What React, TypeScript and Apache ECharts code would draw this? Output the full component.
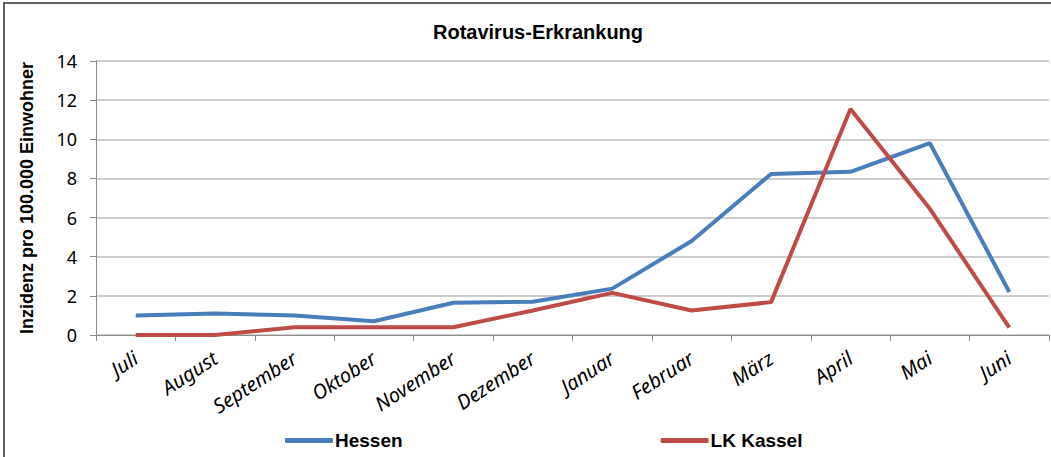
import React, { useEffect, useRef } from "react";
import * as echarts from "echarts";

const months = ["Juli", "August", "September", "Oktober", "November", "Dezember", "Januar", "Februar", "März", "April", "Mai", "Juni"];
const hessen = [1.0, 1.1, 1.0, 0.7, 1.65, 1.7, 2.37, 4.8, 8.23, 8.34, 9.8, 2.2];
const lkKassel = [0, 0, 0.4, 0.4, 0.4, 1.25, 2.15, 1.25, 1.68, 11.55, 6.45, 0.38];
const yTicks = { min: 0, max: 14, interval: 2 };

const boldFont = "'Liberation Sans', Arial, sans-serif";

export default function App() {
  const ref = useRef<HTMLDivElement>(null);
  useEffect(() => {
    document.body.style.margin = "0";
    const chart = echarts.init(ref.current!, null, { renderer: "svg" });
    chart.setOption({
      animation: false,
      backgroundColor: "#ffffff",
      title: {
        text: "Rotavirus-Erkrankung",
        left: 428,
        top: 17,
        textStyle: { fontFamily: boldFont, fontWeight: "bold", fontSize: 20, color: "#000" },
      },
      graphic: [
        {
          type: "rect",
          shape: { x: 4, y: 3, width: 1080, height: 480 },
          style: { fill: "none", stroke: "#606060", lineWidth: 2 },
          silent: true,
        },
      ],
      legend: {
        bottom: 2,
        left: 280,
        itemGap: 258,
        itemWidth: 48,
        itemHeight: 5,
        icon: "roundRect",
        textStyle: { fontFamily: boldFont, fontWeight: "bold", fontSize: 19, color: "#000", padding: [0, 0, 0, -3] },
        data: ["Hessen", "LK Kassel"],
      },
      grid: { left: 96, right: 2, top: 61, bottom: 122 },
      xAxis: {
        type: "category",
        data: months,
        boundaryGap: true,
        axisLine: { lineStyle: { color: "#8c8c8c", width: 1 } },
        axisTick: { show: true, length: 6, lineStyle: { color: "#8c8c8c" } },
        axisLabel: {
          rotate: 33,
          fontFamily: "Noto Sans",
          fontStyle: "italic",
          fontSize: 20,
          color: "#000",
          margin: 21,
          interval: 0,
        },
      },
      yAxis: {
        type: "value",
        min: yTicks.min,
        max: yTicks.max,
        interval: yTicks.interval,
        name: "Inzidenz pro 100.000 Einwohner",
        nameLocation: "middle",
        nameGap: 60,
        nameTextStyle: { fontFamily: boldFont, fontWeight: "bold", fontSize: 18, color: "#000" },
        axisLine: { show: true, lineStyle: { color: "#8c8c8c", width: 1 } },
        axisTick: { show: true, length: 6, lineStyle: { color: "#8c8c8c" } },
        axisLabel: { fontFamily: "Noto Sans", fontSize: 18, color: "#000", margin: 19 },
        splitLine: { lineStyle: { color: "#bdbdbd", width: 1.5 } },
      },
      series: [
        {
          name: "Hessen",
          type: "line",
          data: hessen,
          symbol: "none",
          lineStyle: { color: "#4a7ebb", width: 4 },
          itemStyle: { color: "#4a7ebb" },
        },
        {
          name: "LK Kassel",
          type: "line",
          data: lkKassel,
          symbol: "none",
          lineStyle: { color: "#be4b48", width: 4 },
          itemStyle: { color: "#be4b48" },
        },
      ],
    });
    return () => chart.dispose();
  }, []);
  return <div ref={ref} style={{ width: 1051, height: 457 }} />;
}
